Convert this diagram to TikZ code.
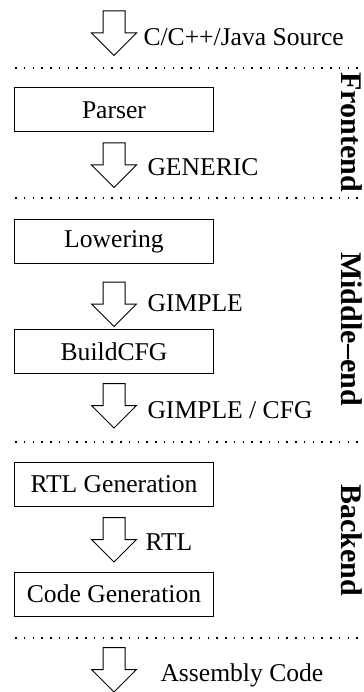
\documentclass[tikz,border=0pt]{standalone}
\usepackage{fontspec}
\setmainfont{Liberation Serif}
\usetikzlibrary{positioning}
\tikzset{
  stagebox/.style={draw,line width=0.4pt,minimum width=79.2pt,minimum height=17.6pt,inner sep=0pt},
  flow/.pic={\draw[line width=0.4pt] (-11,-22)--(11,-22)--(11,0)--(22.5,0)--(0,22.5)--(-22.5,0)--(-11,0)--cycle;},
  flowlabel/.style={anchor=west,inner sep=0pt},
  phase/.style={rotate=-90,font=\bfseries\fontsize{12}{14}\selectfont},
  sep/.style={line width=0.5pt,dash pattern=on 0.6pt off 2.9pt}
}

\begin{document}
\begin{tikzpicture}[x=0.4pt,y=-0.4pt,font=\fontsize{10.24}{12}\selectfont]
\useasboundingbox (0,0) rectangle (363,692);
\foreach \y in {68,198,442,638}{
  \draw[sep] (15,\y)--(363,\y);
}
% stages
\node[stagebox] (parser) at (114,110) {Parser};
\node[stagebox] (lower) at (114,241.5) {Lowering};
\node[stagebox] (cfg) at (114,351.5) {BuildCFG};
\node[stagebox] (rtlgen) at (114,484.5) {RTL Generation};
\node[stagebox] (codegen) at (114,594) {Code Generation};
% flows
\pic (src) at (114,33) {flow};
\pic (generic) at (114,165) {flow};
\pic (gimple) at (114,304) {flow};
\pic (gimplecfg) at (114,405.5) {flow};
\pic (rtl) at (114,539.5) {flow};
\pic (asm) at (114,669.5) {flow};
\node[flowlabel] (srcl) at (143,37) {C/C++/Java Source};
\node[flowlabel] (genericl) at (147,167) {GENERIC};
\node[flowlabel] (gimplel) at (147,303) {GIMPLE};
\node[flowlabel] (gimplecfgl) at (147,410) {GIMPLE / CFG};
\node[flowlabel] (rtll) at (145,542) {RTL};
\node[flowlabel] (asml) at (160,675) {Assembly Code};
% phases
\node[phase] (front) at (352,132) {Frontend};
\node[phase] (middle) at (352,329) {Middle--end};
\node[phase] (back) at (352,540) {Backend};
\end{tikzpicture}
\end{document}
